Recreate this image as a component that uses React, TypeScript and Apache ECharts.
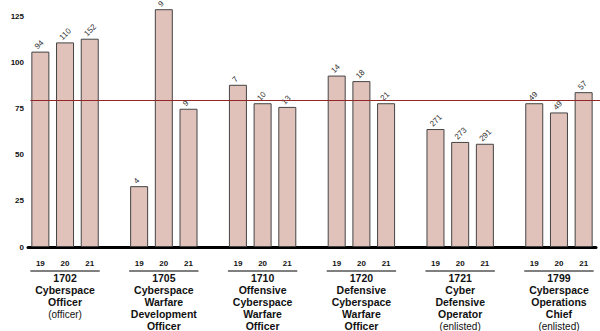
import React, { useEffect, useRef } from "react";
import * as echarts from "echarts";

const groups = ["1702", "1705", "1710", "1720", "1721", "1799"];
const groupTitles = [
  ["Cyberspace", "Officer"],
  ["Cyberspace", "Warfare", "Development", "Officer"],
  ["Offensive", "Cyberspace", "Warfare", "Officer"],
  ["Defensive", "Cyberspace", "Warfare", "Officer"],
  ["Cyber", "Defensive", "Operator"],
  ["Cyberspace", "Operations", "Chief"],
];
const groupNotes = ["(officer)", "", "", "", "(enlisted)", "(enlisted)"];
const years = ["19", "20", "21"];

const values = [
  [106, 111, 113],
  [33, 129, 75],
  [88, 78, 76],
  [93, 90, 78],
  [64, 57, 56],
  [78, 73, 84],
];
const counts = [
  [94, 110, 152],
  [4, 9, 9],
  [7, 10, 13],
  [14, 18, 21],
  [271, 273, 291],
  [49, 49, 57],
];
const referenceValue = 80;
const yTicks = [0, 25, 50, 75, 100, 125];

const FONT = "'Liberation Sans', Arial, sans-serif";
const REF_COLOR = "#932626";

export default function App() {
  const ref = useRef<HTMLDivElement>(null);

  useEffect(() => {
    if (!ref.current) return;
    const chart = echarts.init(ref.current, undefined, { renderer: "svg" });

    const categories: string[] = [];
    const data: (number | null)[] = [];
    const labels: (number | null)[] = [];
    groups.forEach((g, gi) => {
      years.forEach((y, yi) => {
        categories.push(`${g}-${y}`);
        data.push(values[gi][yi]);
        labels.push(counts[gi][yi]);
      });
      if (gi < groups.length - 1) {
        categories.push(`gap-${gi}`);
        data.push(null);
        labels.push(null);
      }
    });

    const groupText = (gi: number) => {
      const lines = [`{b|${groups[gi]}}`, ...groupTitles[gi].map((t) => `{b|${t}}`)];
      if (groupNotes[gi]) lines.push(`{n|${groupNotes[gi]}}`);
      return lines.join("\n");
    };

    chart.setOption({
      animation: false,
      grid: { left: 28, right: 4, top: 0, bottom: 84, outerBoundsMode: "none", containLabel: false },
      xAxis: [
        {
          type: "category",
          data: categories,
          axisLine: { lineStyle: { color: "#000", width: 3 } },
          axisTick: { show: false },
          axisLabel: {
            interval: 0,
            margin: 12,
            fontFamily: FONT,
            fontSize: 8,
            fontWeight: "bold",
            color: "#111",
            formatter: (v: string) => (v.startsWith("gap") ? "" : v.split("-")[1]),
          },
        },
        {
          type: "category",
          data: categories,
          position: "bottom",
          axisLine: { show: false },
          axisTick: { show: false },
          axisLabel: {
            interval: 0,
            margin: 25,
            color: "#111",
            formatter: (v: string) => {
              const [g, y] = v.split("-");
              const gi = groups.indexOf(g);
              if (gi < 0 || y !== "20") return "";
              return groupText(gi);
            },
            rich: {
              b: { fontFamily: FONT, fontSize: 10.5, fontWeight: "bold", lineHeight: 12, color: "#111" },
              n: { fontFamily: FONT, fontSize: 10, lineHeight: 12, color: "#111" },
            },
          },
        },
      ],
      yAxis: {
        type: "value",
        min: 0,
        max: 134,
        interval: 25,
        splitLine: { show: false },
        axisLine: { show: false },
        axisTick: { show: false },
        axisLabel: {
          margin: 4,
          fontFamily: FONT,
          fontSize: 8,
          fontWeight: "bold",
          color: "#111",
          formatter: (v: number) => (yTicks.includes(v) ? String(v) : ""),
        },
      },
      series: [
        {
          type: "bar",
          data,
          barWidth: 18,
          itemStyle: { color: "#e0c2ba", borderColor: "#444", borderWidth: 1 },
          label: {
            show: true,
            position: "top",
            rotate: 45,
            align: "left",
            verticalAlign: "middle",
            distance: 8,
            offset: [-6, 0],
            fontFamily: FONT,
            fontSize: 8,
            color: "#333",
            formatter: (p: any) => (labels[p.dataIndex] == null ? "" : String(labels[p.dataIndex])),
          },
        },
      ],
    });

    const lineY = 271;
    const graphics: any[] = groups.map((g) => {
      const x1 = chart.convertToPixel({ xAxisIndex: 0 }, `${g}-19`) as number;
      const x3 = chart.convertToPixel({ xAxisIndex: 0 }, `${g}-21`) as number;
      return {
        type: "line",
        shape: { x1: x1 - 10, y1: lineY, x2: x3 + 10, y2: lineY },
        style: { stroke: "#000", lineWidth: 1 },
      };
    });
    const refY = Math.round(chart.convertToPixel({ yAxisIndex: 0 }, referenceValue) as number) + 0.5;
    const refX1 = (chart.convertToPixel({ xAxisIndex: 0 }, categories[0]) as number) - 10;
    graphics.push({
      type: "line",
      z: 10,
      shape: { x1: refX1, y1: refY, x2: 600, y2: refY },
      style: { stroke: REF_COLOR, lineWidth: 1 },
    });
    chart.setOption({ graphic: graphics });

    return () => chart.dispose();
  }, []);

  return <div ref={ref} style={{ width: 600, height: 331, position: "absolute", left: 0, top: 0 }} />;
}
